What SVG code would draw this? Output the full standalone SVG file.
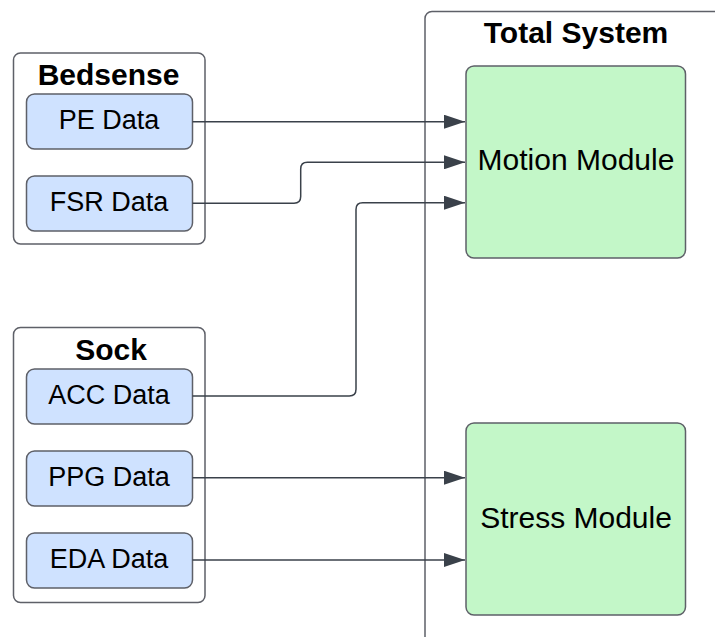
<svg xmlns="http://www.w3.org/2000/svg" width="715" height="637" viewBox="0 0 715 637">
  <style>
    .container { fill: #ffffff; stroke: #5e6068; stroke-width: 1.5; }
    .data { fill: #cfe2ff; stroke: #5e6068; stroke-width: 1.5; }
    .module { fill: #c3f7c8; stroke: #5e6068; stroke-width: 1.5; }
    .title { font-family: "Liberation Sans", Arial, sans-serif; font-weight: bold; font-size: 30px; fill: #000; text-anchor: middle; }
    .label { font-family: "Liberation Sans", Arial, sans-serif; font-size: 27px; fill: #000; text-anchor: middle; }
    .modlabel { font-family: "Liberation Sans", Arial, sans-serif; font-size: 30px; fill: #000; text-anchor: middle; }
    .wire { fill: none; stroke: #3a414a; stroke-width: 1.5; marker-end: url(#arrow); }
  </style>
  <defs>
    <marker id="arrow" markerWidth="22" markerHeight="14" refX="21" refY="7" orient="auto" markerUnits="userSpaceOnUse">
      <path d="M0,0 L21,7 L0,14 Z" fill="#3a414a"/>
    </marker>
  </defs>

  <!-- Total System container (extends past the canvas edges) -->
  <g id="total-system">
    <rect class="container" x="425" y="11.5" width="320" height="660" rx="7"/>
    <text class="title" x="576" y="43">Total System</text>
  </g>

  <!-- Bedsense container -->
  <g id="bedsense">
    <rect class="container" x="13.5" y="53" width="191.5" height="191" rx="7"/>
    <text class="title" x="108.5" y="84.5">Bedsense</text>
  </g>
  <g id="pe-data">
    <rect class="data" x="26.5" y="94" width="166" height="55" rx="8"/>
    <text class="label" x="109" y="128.5">PE Data</text>
  </g>
  <g id="fsr-data">
    <rect class="data" x="26.5" y="176" width="166" height="55" rx="8"/>
    <text class="label" x="109" y="210.5">FSR Data</text>
  </g>

  <!-- Sock container -->
  <g id="sock">
    <rect class="container" x="13.5" y="327.5" width="191.5" height="275" rx="7"/>
    <text class="title" x="111" y="360">Sock</text>
  </g>
  <g id="acc-data">
    <rect class="data" x="26.5" y="369" width="166" height="55" rx="8"/>
    <text class="label" x="109" y="403.5">ACC Data</text>
  </g>
  <g id="ppg-data">
    <rect class="data" x="26.5" y="451" width="166" height="55" rx="8"/>
    <text class="label" x="109" y="485.5">PPG Data</text>
  </g>
  <g id="eda-data">
    <rect class="data" x="26.5" y="533" width="166" height="55" rx="8"/>
    <text class="label" x="109" y="567.5">EDA Data</text>
  </g>

  <!-- Modules -->
  <g id="motion-module">
    <rect class="module" x="466" y="66" width="219.5" height="192" rx="8"/>
    <text class="modlabel" x="576" y="170">Motion Module</text>
  </g>
  <g id="stress-module">
    <rect class="module" x="466" y="423" width="219.5" height="192" rx="8"/>
    <text class="modlabel" x="576" y="528">Stress Module</text>
  </g>

  <!-- Connectors -->
  <g id="connectors">
    <path class="wire" d="M192.5,121.7 H465"/>
    <path class="wire" d="M192.5,203.3 H294 Q300.7,203.3 300.7,196.6 V169 Q300.7,162.3 307.4,162.3 H465"/>
    <path class="wire" d="M192.5,396 H349.3 Q356,396 356,389.3 V209.4 Q356,202.7 362.7,202.7 H465"/>
    <path class="wire" d="M192.5,477.7 H465"/>
    <path class="wire" d="M192.5,560 H465"/>
  </g>
</svg>
